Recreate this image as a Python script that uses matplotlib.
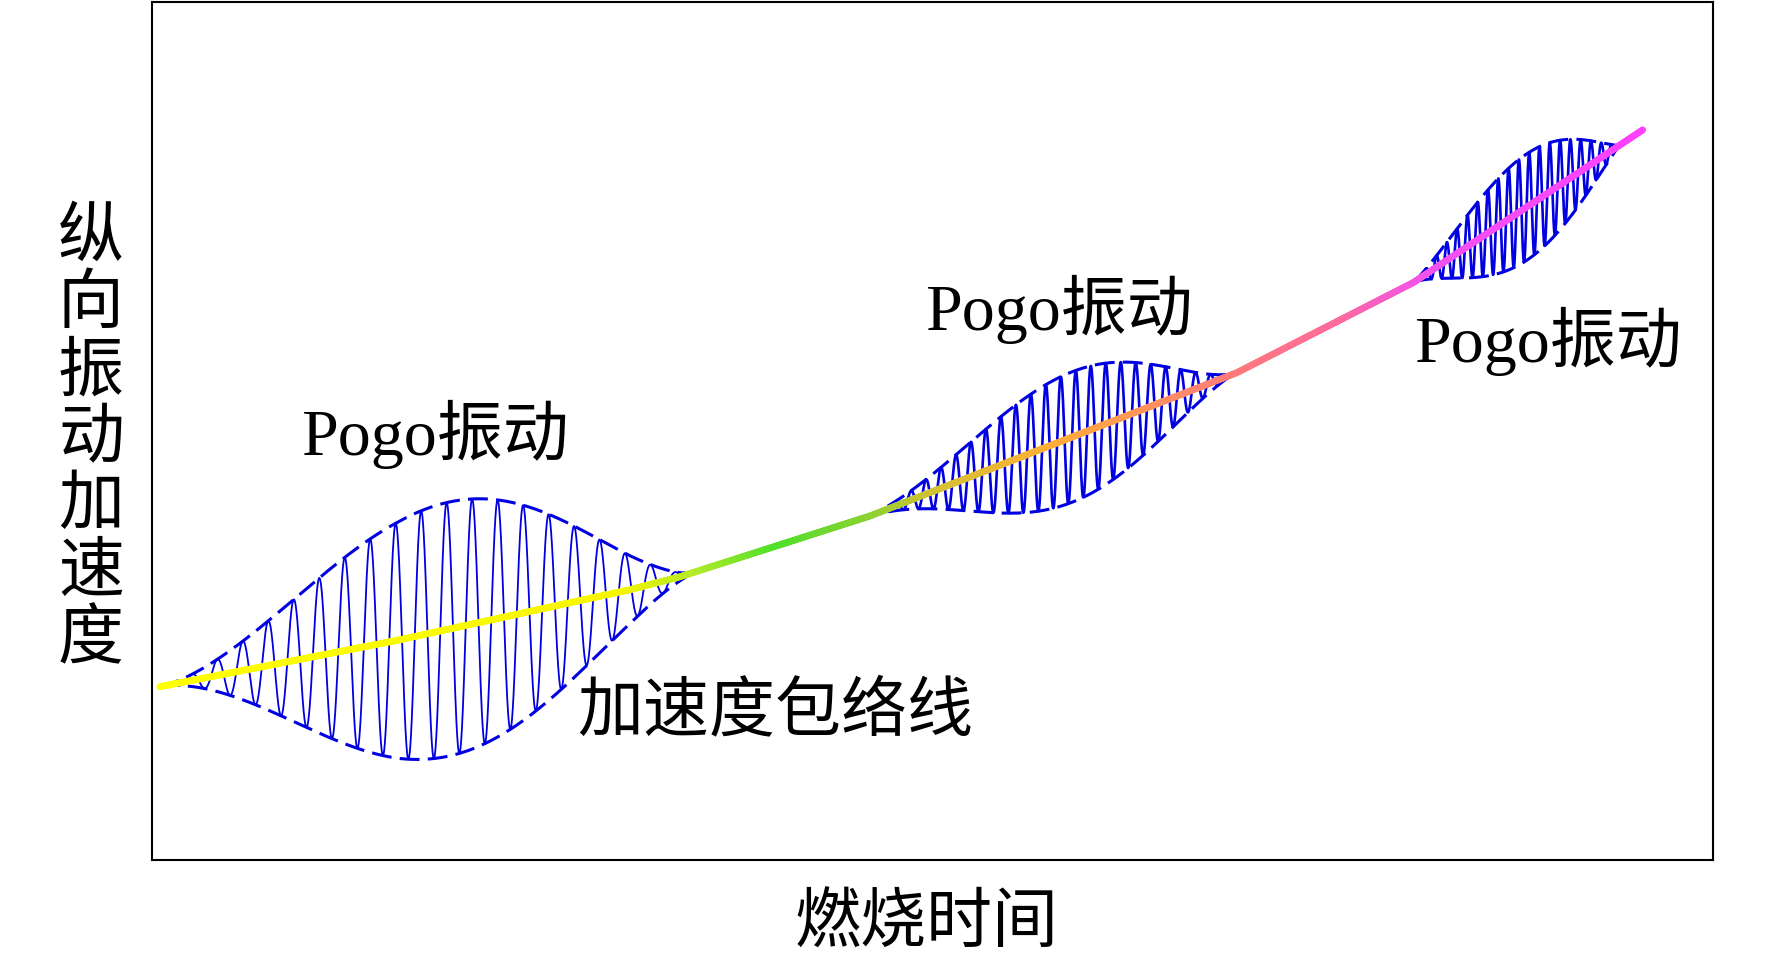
import numpy as np
import matplotlib.pyplot as plt
from matplotlib.collections import LineCollection
from matplotlib.colors import LinearSegmentedColormap

# mean acceleration trend (axes run 0..100)
trend_x = [0.5, 15.7, 30.6, 33.8, 46.0, 69.5, 80.8, 95.5]
trend_y = [20.2, 25.6, 31.5, 33.0, 40.1, 56.8, 67.3, 85.1]

# colour of the trend line along the burn
color_x = [0, 30, 35, 40, 46, 50, 58, 69, 76, 82, 96]
color_c = ['#ffff00', '#f6f600', '#b0ea2a', '#4ee02a', '#8cd232', '#d2c232',
           '#ffad38', '#ff7c7a', '#ff6a9c', '#f252f0', '#ff40ff']

# pogo bursts: start, end, peak half-height of the envelope, where it peaks,
# how full the envelope is, cycles
burst_start = [0.5, 45.5, 80.8]
burst_end = [34.8, 69.5, 94.0]
burst_amp = [14.8, 7.6, 6.2]
burst_peak = [0.54, 0.56, 0.55]
burst_shape = [1.5, 1.5, 1.1]
burst_cycles = [21, 25, 20]

pogo_text = 'Pogo振动'
envelope_text = '加速度包络线'
ylabel_text = '纵向振动加速度'
xlabel_text = '燃烧时间'

plt.rcParams['font.family'] = ['Liberation Serif', 'Noto Sans CJK SC']

W, H = 1772, 963
fig = plt.figure(figsize=(W / 100, H / 100), dpi=100)
ax_l, ax_r, ax_t, ax_b = 152, 1713, 2, 860
ax = fig.add_axes([ax_l / W, 1 - ax_b / H, (ax_r - ax_l) / W, (ax_b - ax_t) / H])
ax.set_xlim(0, 100)
ax.set_ylim(0, 100)
ax.set_xticks([])
ax.set_yticks([])
for sp in ax.spines.values():
    sp.set_linewidth(1.5)

blue = '#0000e0'
for i in range(len(burst_start)):
    t = np.linspace(0, 1, 6000)
    xs = burst_start[i] + (burst_end[i] - burst_start[i]) * t
    yb = np.interp(xs, trend_x, trend_y)
    p = np.log(0.5) / np.log(burst_peak[i])
    amp = burst_amp[i] * np.sin(np.pi * t ** p) ** burst_shape[i]
    osc = amp * np.sin(2 * np.pi * burst_cycles[i] * t)
    lw = 1.3 if i == 0 else 1.9
    ax.plot(xs, yb + osc, color=blue, lw=lw, zorder=2)
    ax.plot(xs, yb + amp, color=blue, lw=2.2, dashes=(6.5, 2.7), zorder=2)
    ax.plot(xs, yb - amp, color=blue, lw=2.2, dashes=(6.5, 2.7), zorder=2)

# coloured trend line
xx = np.linspace(trend_x[0], trend_x[-1], 1500)
yy = np.interp(xx, trend_x, trend_y)
pos = [(c - color_x[0]) / (color_x[-1] - color_x[0]) for c in color_x]
cmap = LinearSegmentedColormap.from_list('trend', list(zip(pos, color_c)))
pts = np.column_stack([xx, yy]).reshape(-1, 1, 2)
segs = np.concatenate([pts[:-1], pts[1:]], axis=1)
lc = LineCollection(segs, colors=cmap((xx[:-1] - color_x[0]) / (color_x[-1] - color_x[0])),
                    linewidths=4.8, capstyle='round', zorder=3)
ax.add_collection(lc)

fs = 47.5
for (px, py) in [(435, 434), (1059, 309), (1548, 341)]:
    fig.text(px / W, 1 - py / H, pogo_text, fontsize=fs, ha='center', va='center')
fig.text(775 / W, 1 - 713 / H, envelope_text, fontsize=fs, ha='center', va='center')
fig.text(927 / W, 1 - 926 / H, xlabel_text, fontsize=fs, ha='center', va='center')
for k, ch in enumerate(ylabel_text):
    fig.text(91 / W, 1 - (240 + 67 * k) / H, ch, fontsize=fs, ha='center', va='center')

fig.savefig('out.png', dpi=100)
